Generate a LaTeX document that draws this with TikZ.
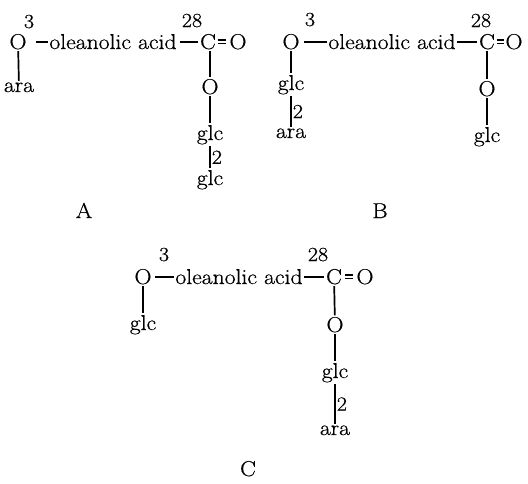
\documentclass[tikz,border=0pt]{standalone}
\usepackage{fontspec}
\setmainfont{Latin Modern Roman}[FakeStretch=1.1, FakeBold=0.6]
\begin{document}
\begin{tikzpicture}[x=1pt,y=-1pt,
  lbl/.style={anchor=base, inner sep=1.5pt, font=\fontsize{21.5}{25}\selectfont},
  sup/.style={anchor=base, inner sep=1pt, font=\fontsize{20}{24}\selectfont},
  bond/.style={line width=1.7pt},
  dbond/.style={line width=1.1pt, double, double distance=2.2pt},
  lnk/.style={font=\fontsize{20}{24}\selectfont, inner sep=1pt, right}]
\useasboundingbox (0,0) rectangle (528,483);
% ---------- A ----------
\node[lbl] (aO3) at (18,49) {O};
\node[sup] (a3) at (29,28) {3};
\node[lbl] (aol) at (113,49) {oleanolic acid};
\node[sup] (a28) at (192,27) {28};
\node[lbl] (aC) at (208,49) {C};
\node[lbl] (aO) at (238,49) {O};
\node[lbl] (aO2) at (210,94) {O};
\node[lbl] (ag1) at (210,140) {glc};
\node[lbl] (ag2) at (210,185) {glc};
\node[lbl] (aara) at (19,92) {ara};
\node[lbl] (alab) at (84,218) {A};
\draw[bond] (aO3.east) ++(8,0) -- (aol.west |- aO3.east);
\draw[bond] (aol.east |- aC.west) ++(2,0) -- (aC.west);
\draw[dbond, shorten <=0pt, shorten >=2pt] (aC.east) -- (aO.west);
\draw[bond] (aO3) -- (aara);
\draw[bond] (aC.south -| aO2) -- (aO2);
\draw[bond] (aO2) -- (ag1);
\draw[bond] (ag1) -- node[lnk] {2} (ag2);
% ---------- B ----------
\node[lbl] (bO3) at (291,49) {O};
\node[sup] (b3) at (310,26) {3};
\node[lbl] (bol) at (392,49) {oleanolic acid};
\node[sup] (b28) at (481,27) {28};
\node[lbl] (bC) at (487,49) {C};
\node[lbl] (bO) at (514,49) {O};
\node[lbl] (bO2) at (487,96) {O};
\node[lbl] (bg) at (487,142) {glc};
\node[lbl] (bgl) at (291,90) {glc};
\node[lbl] (bara) at (291,138) {ara};
\node[lbl] (blab) at (380,218) {B};
\draw[bond] (bO3.east) ++(3,0) -- (bol.west |- bO3.east);
\draw[bond] (bol.east |- bC.west) -- (bC.west);
\draw[dbond] (bC.east) -- (bO.west);
\draw[bond] (bO3) -- (bgl);
\draw[bond] (bgl) -- node[lnk] {2} (bara);
\draw[bond] (bC) -- (bO2);
\draw[bond] (bO2) -- (bg);
% ---------- C ----------
\node[lbl] (cO3) at (143,284) {O};
\node[sup] (c3) at (164,261) {3};
\node[lbl] (col) at (239,284) {oleanolic acid};
\node[sup] (c28) at (318,261) {28};
\node[lbl] (cC) at (334,284) {C};
\node[lbl] (cO) at (365,284) {O};
\node[lbl] (cO2) at (335,332) {O};
\node[lbl] (cg) at (335,378) {glc};
\node[lbl] (cara) at (335,435) {ara};
\node[lbl] (cgl) at (143,330) {glc};
\node[lbl] (clab) at (248,476) {C};
\draw[bond] (cO3.east) ++(2,0) -- (col.west |- cO3.east);
\draw[bond] (col.east |- cC.west) -- (cC.west);
\draw[dbond, shorten <=1pt, shorten >=2pt] (cC.east) -- (cO.west);
\draw[bond] (cO3) -- (cgl);
\draw[bond] (cC) -- (cO2);
\draw[bond] (cO2) -- (cg);
\draw[bond] (cg) -- node[lnk] {2} (cara);
\end{tikzpicture}
\end{document}
